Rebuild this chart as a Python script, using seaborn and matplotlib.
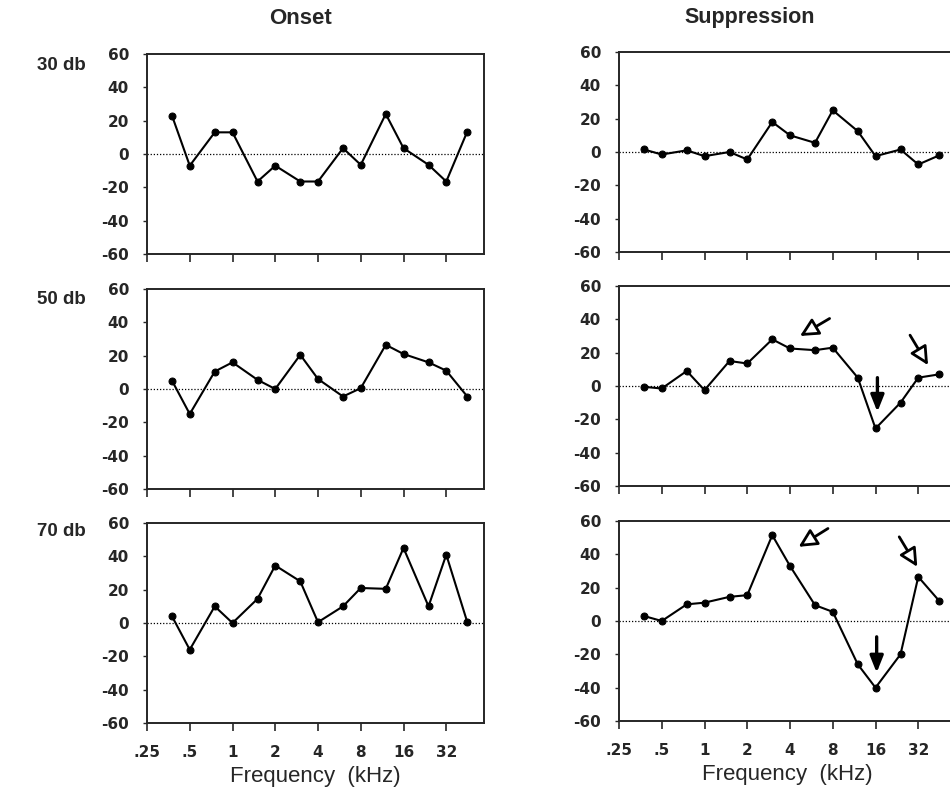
import matplotlib
matplotlib.use("Agg")
import matplotlib.pyplot as plt
import seaborn as sns
import pandas as pd
import numpy as np

# ---------------- data ----------------
freq_khz = [0.375, 0.5, 0.75, 1, 1.5, 2, 3, 4, 6, 8, 12, 16, 24, 32, 45]
onset_30 = [23, -7, 13, 13, -16.5, -7, -16.5, -16.5, 3.5, -6.5, 24, 3.5, -6.5, -16.5, 13.5]
onset_50 = [5, -15, 10.5, 16, 5.5, 0, 20.5, 6, -4.5, 0.5, 26.5, 21, 16, 11, -4.5]
onset_70 = [4, -16, 10, 0, 14.5, 34.5, 25, 0.5, 10, 21, 20.5, 45, 10, 41, 0.5]
supp_30 = [1.5, -1.5, 1, -2.5, 0, -4.5, 18, 10, 5.5, 25, 12.5, -2.5, 1.5, -7.5, -2]
supp_50 = [-0.5, -1.5, 9, -2.5, 15, 13.5, 28, 22.5, 21.5, 23, 5, -25.5, -10, 5, 7]
supp_70 = [3, 0, 10, 11, 14.5, 15.5, 51.5, 33, 9.5, 5.5, -26, -40, -20, 26.5, 12]

column_titles = ["Onset", "Suppression"]
row_labels = ["30 db", "50 db", "70 db"]
x_ticks = [0.25, 0.5, 1, 2, 4, 8, 16, 32]
x_tick_labels = [".25", ".5", "1", "2", "4", "8", "16", "32"]
y_ticks = [-60, -40, -20, 0, 20, 40, 60]
x_label = "Frequency  (kHz)"

# annotation arrows (suppression panels): (tail, tip) in data coords
open_arrows_50 = [((7.6, 40.5), (4.7, 30)), ((28, 30.5), (37.5, 12.5))]
solid_arrows_50 = [((16.5, 5), (16.5, -15.5))]
open_arrows_70 = [((7.4, 55.5), (4.6, 44.5)), ((23.5, 50.5), (31.5, 32.5))]
solid_arrows_70 = [((16.3, -9.5), (16.3, -31))]

# ---------------- figure ----------------
sns.set_style("ticks")
plt.rcParams["font.family"] = ["Liberation Sans", "DejaVu Sans"]
plt.rcParams["axes.unicode_minus"] = False

W, H = 950, 790
fig = plt.figure(figsize=(W / 100, H / 100), dpi=100)

def px_axes(x0, y_top, w, h):
    return fig.add_axes([x0 / W, 1 - (y_top + h) / H, w / W, h / H])

left_x, right_x, aw, ah = 147, 619, 337, 200
left_tops = [54, 289, 523]
right_tops = [52, 286, 521]

panels = [
    (left_x, left_tops[0], onset_30, [], []),
    (left_x, left_tops[1], onset_50, [], []),
    (left_x, left_tops[2], onset_70, [], []),
    (right_x, right_tops[0], supp_30, [], []),
    (right_x, right_tops[1], supp_50, open_arrows_50, solid_arrows_50),
    (right_x, right_tops[2], supp_70, open_arrows_70, solid_arrows_70),
]

tick_font = dict(family="DejaVu Sans", weight="bold", size=11)

for i, (x0, top, vals, oarrs, sarrs) in enumerate(panels):
    ax = px_axes(x0, top, aw, ah)
    ax.set_xscale("log", base=2)
    df = pd.DataFrame({"freq": freq_khz, "resp": vals})
    ax.axhline(0, color="black", lw=0.9, ls=(0, (1, 1.5)), zorder=1)
    sns.lineplot(data=df, x="freq", y="resp", ax=ax, color="black", lw=1.5,
                 marker="o", markersize=5, markeredgecolor="black",
                 markerfacecolor="black", sort=False, zorder=3)
    ax.set_xlim(0.25, 59)
    ax.set_ylim(-60, 60)
    ax.set_xticks(x_ticks)
    ax.xaxis.set_minor_locator(matplotlib.ticker.NullLocator())
    ax.set_yticks(y_ticks)
    ax.set_yticklabels([str(v) for v in y_ticks], fontdict=tick_font)
    row = i % 3
    if row == 2:
        ax.set_xticklabels(x_tick_labels, fontdict=tick_font)
        ax.set_xlabel(x_label, fontsize=16, labelpad=4)
    else:
        ax.set_xticklabels([])
        ax.set_xlabel("")
    ax.set_ylabel("")
    ax.tick_params(axis="x", direction="out", length=6, width=1.2, pad=10)
    ax.tick_params(axis="y", direction="out", length=3, width=1.0, pad=10)
    for s in ax.spines.values():
        s.set_linewidth(1.4)
        s.set_visible(True)
    for tail, tip in oarrs:
        ax.annotate("", xy=tip, xytext=tail,
                    arrowprops=dict(arrowstyle="-|>,head_length=1.1,head_width=0.55",
                                    fc="white", ec="black", lw=2.0,
                                    shrinkA=0, shrinkB=0), zorder=5)
    for tail, tip in sarrs:
        ax.annotate("", xy=tip, xytext=tail,
                    arrowprops=dict(arrowstyle="-|>,head_length=1.0,head_width=0.4",
                                    fc="black", ec="black", lw=2.4,
                                    shrinkA=0, shrinkB=0), zorder=5)

# column titles
fig.text(300 / W, 1 - 18 / H, column_titles[0], ha="center", va="center",
         fontsize=16, fontweight="bold")
fig.text(750 / W, 1 - 18 / H, column_titles[1], ha="center", va="center",
         fontsize=15.5, fontweight="bold")
# row labels
for lab, yc in zip(row_labels, [66, 300, 532]):
    fig.text(37 / W, 1 - yc / H, lab, ha="left", va="center",
             fontsize=13.5, fontweight="bold")

fig.savefig("out.png", dpi=100)
